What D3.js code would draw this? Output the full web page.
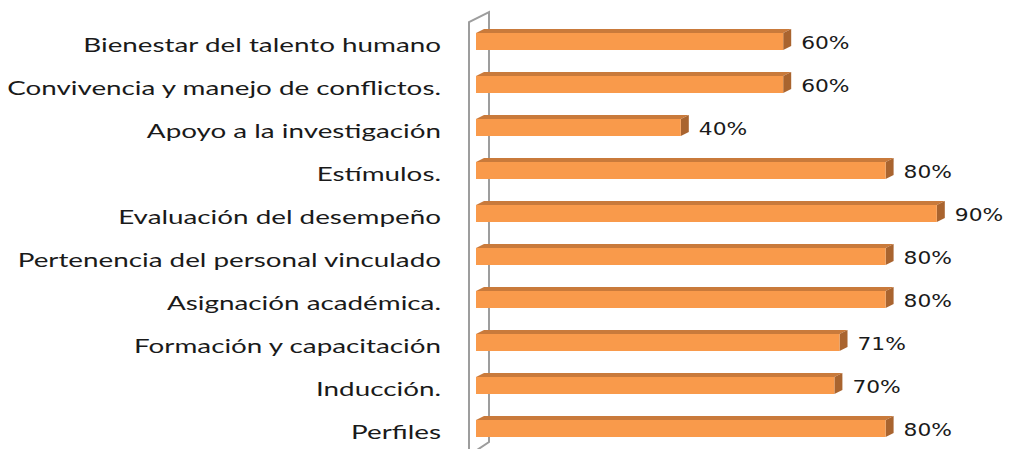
<!DOCTYPE html>
<html><head><meta charset="utf-8">
<script src="https://cdn.jsdelivr.net/npm/d3@7"></script>
<style>html,body{margin:0;padding:0;background:#fff;}svg{display:block;}</style>
</head><body>
<svg id="chart" width="1010" height="449"></svg>
<script>
const categories = [
  "Bienestar del talento humano",
  "Convivencia y manejo de conflictos.",
  "Apoyo a la investigación",
  "Estímulos.",
  "Evaluación del desempeño",
  "Pertenencia del personal vinculado",
  "Asignación académica.",
  "Formación y capacitación",
  "Inducción.",
  "Perfiles"
];
const values = [60, 60, 40, 80, 90, 80, 80, 71, 70, 80];
const valueLabels = ["60%", "60%", "40%", "80%", "90%", "80%", "80%", "71%", "70%", "80%"];

const svg = d3.select("#chart");
const x = d3.scaleLinear().domain([0, 100]).range([476, 988]);
const y = d3.scaleBand().domain(categories).range([20, 450]).paddingInner(0.605).paddingOuter(0.3025);

const dx = 8, dy = 4;
const catStretch = 1.39, valStretch = 1.28;

// wall (3D side panel)
const wall = svg.append("g").attr("fill", "none").attr("stroke", "#9d9d9d").attr("stroke-width", 2);
wall.append("path").attr("d", `M469,460 L469,22 L489,12 L489,442 L474,452`);

// bars
const data = categories.map((c, i) => ({c, v: values[i], lab: valueLabels[i]}));
const bars = svg.append("g");
data.forEach(d => {
  const x0 = x(0), x1 = x(d.v), y0 = y(d.c), h = y.bandwidth();
  const g = bars.append("g");
  g.append("path").attr("fill", "#c97a3b")
    .attr("d", `M${x0},${y0} L${x0+dx},${y0-dy} L${x1+dx},${y0-dy} L${x1},${y0} Z`);
  g.append("path").attr("fill", "#a9642f")
    .attr("d", `M${x1},${y0} L${x1+dx},${y0-dy} L${x1+dx},${y0+h-dy} L${x1},${y0+h} Z`);
  g.append("rect").attr("x", x0).attr("y", y0).attr("width", x1 - x0).attr("height", h).attr("fill", "#f99a4b");
});

// category labels
const cl = svg.append("g").attr("font-family", "Lato").attr("font-size", 20).attr("fill", "#1a1a1a").attr("text-anchor", "end");
cl.selectAll("text").data(data).join("text")
  .attr("x", 441).attr("y", d => y(d.c) + y.bandwidth()/2 + 10)
  .text(d => d.c)
  .each(function(){ const w = this.getComputedTextLength(); d3.select(this).attr("textLength", w*catStretch).attr("lengthAdjust","spacingAndGlyphs"); });

// value labels
const vl = svg.append("g").attr("font-family", "DejaVu Sans").attr("font-size", 17).attr("fill", "#1a1a1a");
vl.selectAll("text").data(data).join("text")
  .attr("x", d => x(d.v) + dx + 10).attr("y", d => y(d.c) + y.bandwidth()/2 + 7)
  .text(d => d.lab)
  .each(function(){ const w = this.getComputedTextLength(); d3.select(this).attr("textLength", w*valStretch).attr("lengthAdjust","spacingAndGlyphs"); });
</script>
</body></html>
